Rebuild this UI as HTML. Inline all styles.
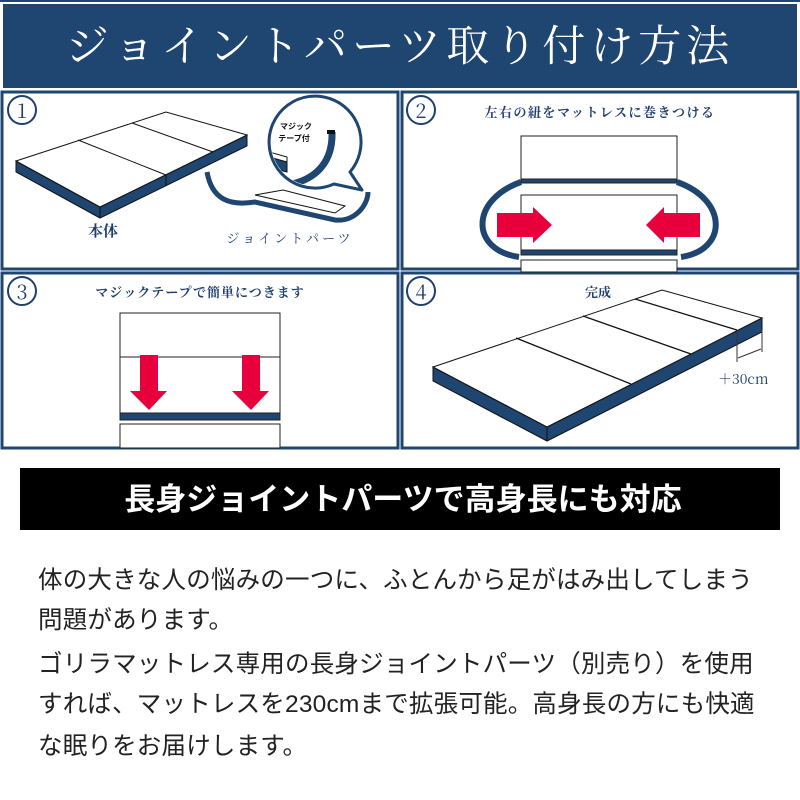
<!DOCTYPE html>
<html><head><meta charset="utf-8"><style>
html,body{margin:0;padding:0;background:#fff;}
body{width:800px;height:800px;overflow:hidden;position:relative;font-family:"Liberation Sans","Noto Sans CJK JP",sans-serif;}
.p{position:absolute;left:38px;font-size:24.5px;color:#222;white-space:nowrap;letter-spacing:0.2px;}
</style></head><body>
<svg width="800" height="800" style="position:absolute;left:0;top:0" xmlns="http://www.w3.org/2000/svg">
<defs><clipPath id="bc"><circle cx="315" cy="142" r="44"/></clipPath></defs>
<rect x="0" y="0" width="800" height="2" fill="#1f4671"/>
<rect x="3" y="4" width="794" height="84" fill="#1f4671"/>
<text x="400" y="61" text-anchor="middle" fill="#fff" font-family="'Noto Serif CJK JP','Noto Serif CJK SC',serif" font-size="43" letter-spacing="5">ジョイントパーツ取り付け方法</text>
<g fill="none" stroke="#1f4671" stroke-width="3">
<rect x="2" y="92" width="396" height="177"/>
<rect x="402" y="92" width="396" height="177"/>
<rect x="2" y="273" width="396" height="175"/>
<rect x="402" y="273" width="396" height="175"/>
</g>
<g font-family="'Noto Serif CJK JP',serif" fill="#1f3f6e">
<circle cx="22" cy="110" r="14" fill="none" stroke="#1f3f6e" stroke-width="2"/><text x="22" y="118" text-anchor="middle" font-size="20">1</text>
<circle cx="421" cy="110" r="14" fill="none" stroke="#1f3f6e" stroke-width="2"/><text x="421" y="118" text-anchor="middle" font-size="20">2</text>
<circle cx="22" cy="291" r="14" fill="none" stroke="#1f3f6e" stroke-width="2"/><text x="22" y="299" text-anchor="middle" font-size="20">3</text>
<circle cx="421" cy="291" r="14" fill="none" stroke="#1f3f6e" stroke-width="2"/><text x="421" y="299" text-anchor="middle" font-size="20">4</text>
<text x="600" y="117" text-anchor="middle" font-size="13" font-weight="bold" letter-spacing="1.5">左右の紐をマットレスに巻きつける</text>
<text x="200" y="297" text-anchor="middle" font-size="13" font-weight="bold" letter-spacing="1">マジックテープで簡単につきます</text>
<text x="598" y="297" text-anchor="middle" font-size="13" font-weight="bold">完成</text>
<text x="103" y="236" text-anchor="middle" font-size="15" font-weight="bold">本体</text>
<text x="290" y="243" text-anchor="middle" font-size="13" letter-spacing="3">ジョイントパーツ</text>
<text x="718" y="384" font-size="14">＋30cm</text>
</g>
<!-- panel1 mattress -->
<polygon points="16,161 16,172 100,218 247,146 247,135 100,207" fill="#1f4671" stroke="#111" stroke-width="1"/>
<polygon points="16,161 166,112 247,135 100,207" fill="#fff" stroke="#111" stroke-width="1"/>
<line x1="100" y1="207" x2="100" y2="218" stroke="#111"/>
<line x1="166" y1="175" x2="166" y2="186" stroke="#111"/>
<line x1="78" y1="140" x2="166" y2="175" stroke="#111"/>
<line x1="132" y1="123" x2="213" y2="152" stroke="#111"/>
<!-- joint part -->
<path d="M207,172 C212,200 230,206 255,202 L335,220 C355,222 368,205 368,192" fill="none" stroke="#1f4671" stroke-width="5"/>
<polygon points="255,195 283,190 345,206 335,213" fill="#fff" stroke="#111"/>
<!-- bubble -->
<path d="M350,172 A46,46 0 1 0 334,184 L362,190 Z" fill="#fff" stroke="#1f4671" stroke-width="3" stroke-linejoin="round"/>
<g clip-path="url(#bc)">
<polygon points="262,155 287,162 287,172 262,166" fill="#1f4671" stroke="#111"/>
<polygon points="262,150 287,157 287,162 262,155" fill="#fff" stroke="#111"/>
<path d="M332,132 C333,160 318,178 292,184" fill="none" stroke="#1f4671" stroke-width="7"/>
</g>
<rect x="327" y="130" width="8" height="4" fill="#111"/>
<text x="296" y="129" text-anchor="middle" font-size="8" fill="#111" font-family="'Noto Sans CJK JP',sans-serif" font-weight="bold">マジック</text>
<text x="294" y="141" text-anchor="middle" font-size="8" fill="#111" font-family="'Noto Sans CJK JP',sans-serif" font-weight="bold">テープ付</text>
<!-- panel2 -->
<rect x="521" y="136" width="156" height="43" fill="#fff" stroke="#222"/>
<rect x="521" y="179" width="156" height="4" fill="#1f4671" stroke="#222"/>
<rect x="521" y="195" width="156" height="55" fill="#fff" stroke="#222"/>
<rect x="521" y="250" width="156" height="5" fill="#1f4671" stroke="#222"/>
<rect x="521" y="260" width="156" height="12" fill="#fff" stroke="#222"/>
<path d="M521,182 C470,200 470,250 519,257" fill="none" stroke="#1f4671" stroke-width="6"/>
<path d="M677,182 C728,200 728,250 681,257" fill="none" stroke="#1f4671" stroke-width="6"/>
<polygon points="497,213 533,213 533,207 552,225 533,243 533,237 497,237" fill="#e8003d"/>
<polygon points="700,213 664,213 664,207 646,225 664,243 664,237 700,237" fill="#e8003d"/>
<!-- panel3 -->
<rect x="120" y="313" width="160" height="44" fill="#fff" stroke="#222"/>
<rect x="120" y="357" width="160" height="56" fill="#fff" stroke="#222"/>
<rect x="120" y="413" width="160" height="7" fill="#1f4671" stroke="#222"/>
<rect x="120" y="424" width="160" height="24" fill="#fff" stroke="#222"/>
<polygon points="140,355 158,355 158,391 167,391 149,410 130,391 140,391" fill="#e8003d"/>
<polygon points="242,355 260,355 260,391 269,391 251,410 232,391 242,391" fill="#e8003d"/>
<!-- panel4 -->
<polygon points="433,367 433,381 547,441 762,332 762,318 547,427" fill="#1f4671" stroke="#111"/>
<polygon points="433,367 662,290 762,318 547,427" fill="#fff" stroke="#111"/>
<line x1="547" y1="427" x2="547" y2="441" stroke="#111"/>
<line x1="516" y1="338" x2="631" y2="384" stroke="#111" stroke-width="1.3"/>
<line x1="583" y1="316" x2="691" y2="354" stroke="#111" stroke-width="1.3"/>
<line x1="635" y1="299" x2="737" y2="330" stroke="#111" stroke-width="1.3"/>
<line x1="737" y1="330" x2="737" y2="362" stroke="#333"/>
<line x1="762" y1="330" x2="762" y2="352" stroke="#333"/>
<line x1="738" y1="358" x2="761" y2="349" stroke="#333"/>
<!-- black band -->
<rect x="20" y="468" width="760" height="62" fill="#000"/>
<text x="403" y="510" text-anchor="middle" fill="#fff" font-family="'Noto Sans CJK JP',sans-serif" font-weight="bold" font-size="31">長身ジョイントパーツで高身長にも対応</text>
</svg>
<div class="p" style="top:561px">体の大きな人の悩みの一つに、ふとんから足がはみ出してしまう</div>
<div class="p" style="top:601px">問題があります。</div>
<div class="p" style="top:645px">ゴリラマットレス専用の長身ジョイントパーツ（別売り）を使用</div>
<div class="p" style="top:685px">すれば、マットレスを230cmまで拡張可能。高身長の方にも快適</div>
<div class="p" style="top:727px">な眠りをお届けします。</div>
</body></html>
